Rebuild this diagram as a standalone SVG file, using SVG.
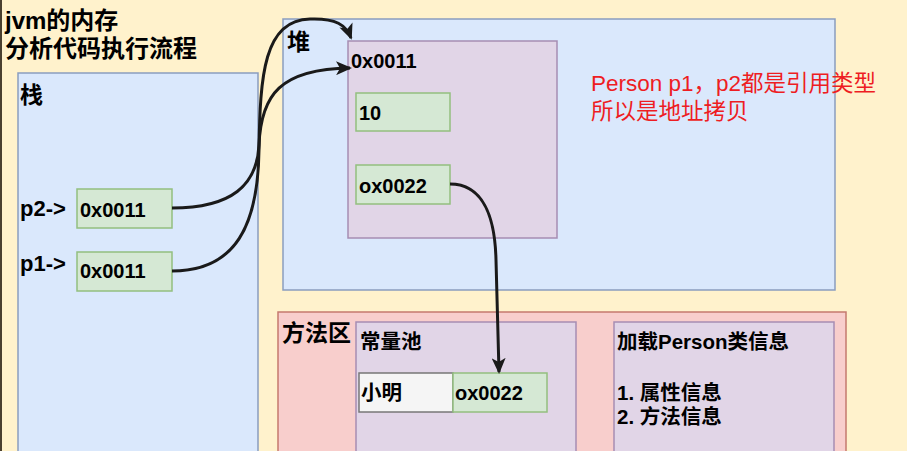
<svg xmlns="http://www.w3.org/2000/svg" width="907" height="451" viewBox="0 0 907 451">
<defs>
<style>
text{font-family:"Liberation Sans","Noto Sans CJK SC",sans-serif;font-weight:bold;font-size:20px;fill:#000}
.big{font-size:24px}
.lab{font-size:23px}
.ptr{font-size:22px}
.info{font-size:20.5px}
.red{font-weight:normal;font-size:22.5px;fill:#EE1D23;font-family:"Liberation Sans","Noto Sans CJK SC",sans-serif}
.blue{fill:#DAE8FC;stroke:#8A9DBE;stroke-width:1.5}
.purple{fill:#E1D5E7;stroke:#A68DB3;stroke-width:1.5}
.green{fill:#D5E8D4;stroke:#93BF7F;stroke-width:1.5}
.redbox{fill:#F8CECC;stroke:#C57A6E;stroke-width:1.5}
.white{fill:#F5F5F5;stroke:#777;stroke-width:1.5}
.edge{fill:none;stroke:#1a1a1a;stroke-width:3}
</style>
<marker id="arr" markerUnits="userSpaceOnUse" markerWidth="16" markerHeight="14" viewBox="0 0 16 14" refX="14" refY="7" orient="auto">
<path d="M0,0 L16,7 L0,14 L4,7 z" fill="#1a1a1a"/>
</marker>
</defs>
<rect width="907" height="451" fill="#FFF2CC"/>
<rect x="0" y="0" width="2" height="451" fill="#4a4030"/>
<g id="title">
<text class="big" x="5" y="29">jvm的内存</text>
<text class="big" x="5" y="57">分析代码执行流程</text>
</g>
<g id="stack">
<rect class="blue" x="18" y="73" width="240" height="390"/>
<text class="lab" x="20" y="103">栈</text>
</g>
<g id="p2">
<text class="ptr" x="20" y="216">p2-&gt;</text>
<rect class="green" x="77" y="189" width="95" height="39"/>
<text x="80" y="217">0x0011</text>
</g>
<g id="p1">
<text class="ptr" x="20" y="271">p1-&gt;</text>
<rect class="green" x="77" y="252" width="95" height="39"/>
<text x="80" y="278">0x0011</text>
</g>
<g id="heap">
<rect class="blue" x="283" y="19" width="552" height="271"/>
<text class="lab" x="287" y="50">堆</text>
</g>
<g id="obj">
<rect class="purple" x="348" y="41" width="209" height="197"/>
<text x="351" y="68">0x0011</text>
</g>
<g id="age">
<rect class="green" x="356" y="93" width="94" height="38"/>
<text x="359" y="120">10</text>
</g>
<g id="nameref">
<rect class="green" x="356" y="165" width="94" height="39"/>
<text x="359" y="193">ox0022</text>
</g>
<g id="note">
<text class="red" x="591" y="91">Person p1，p2都是引用类型</text>
<text class="red" x="591" y="119">所以是地址拷贝</text>
</g>
<g id="method">
<rect class="redbox" x="278" y="312" width="568" height="150"/>
<text class="lab" x="282" y="341">方法区</text>
</g>
<g id="pool">
<rect class="purple" x="356" y="322" width="220" height="140"/>
<text class="info" x="360" y="349">常量池</text>
</g>
<g id="xiaoming">
<rect class="white" x="359" y="373" width="94" height="39"/>
<text class="info" x="361" y="400">小明</text>
</g>
<g id="str">
<rect class="green" x="453" y="373" width="94" height="39"/>
<text x="455" y="400">ox0022</text>
</g>
<g id="classinfo">
<rect class="purple" x="614" y="322" width="220" height="140"/>
<text class="info" x="617" y="349">加载Person类信息</text>
<text class="info" x="617" y="400">1. 属性信息</text>
<text class="info" x="617" y="424">2. 方法信息</text>
</g>
<g id="connectors">
<path class="edge" marker-end="url(#arr)" d="M172,208 C232,208 257,185 259,145 C261,95 280,69 350,68"/>
<path class="edge" marker-end="url(#arr)" d="M172,271 C236,271 258,225 259,150 C260,75 264,20 310,19 C336,18 346,25 351,38"/>
<path class="edge" marker-end="url(#arr)" d="M450,184 C482,184 495,215 496,260 L499,372"/>
</g>
</svg>
